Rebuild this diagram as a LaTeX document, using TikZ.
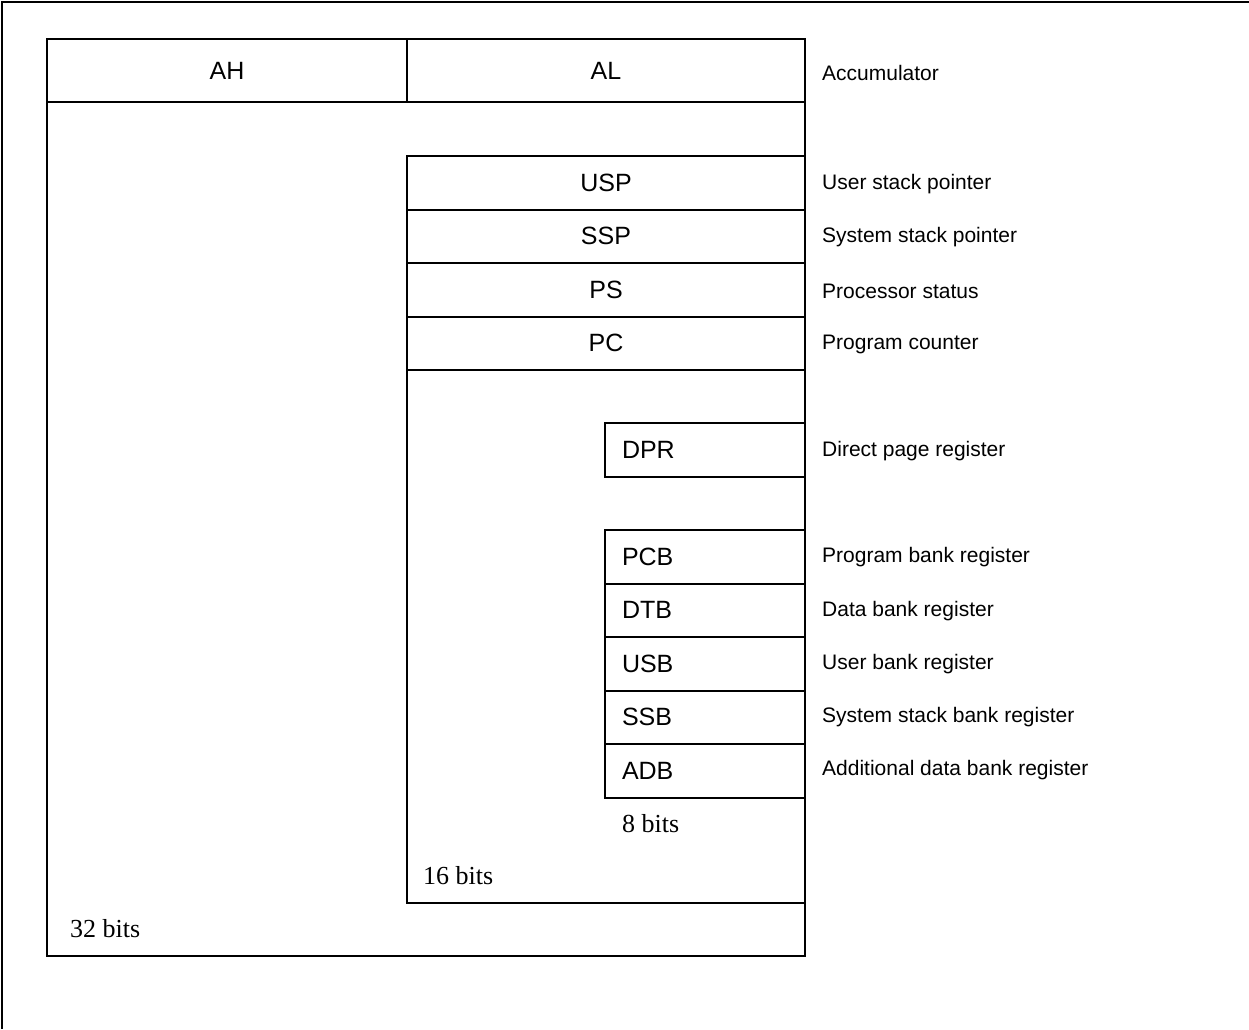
\documentclass[tikz,border=0pt]{standalone}
\usepackage{fontspec}
\setmainfont{Liberation Serif}
\setsansfont{Liberation Sans}
\newfontfamily\regsans{Liberation Sans}
\begin{document}
\begin{tikzpicture}[x=1pt,y=-1pt,
  frame/.style={line width=2.2pt},
  wall/.style={line width=2pt},
  regbox/.style={draw, line width=2pt, inner sep=0pt, outer sep=0pt, anchor=north west,
    minimum height=53.5pt, font=\regsans\fontsize{25}{29}\selectfont},
  accbox/.style={regbox, line width=2.8pt, minimum height=63pt},
  bankbox/.style={regbox, minimum width=200pt, text width=166pt, inner xsep=17pt, align=left},
  desc/.style={anchor=west, inner sep=0pt, yshift=-1.5pt, font=\regsans\fontsize{21}{25}\selectfont},
  bits/.style={anchor=base west, inner sep=0pt, font=\rmfamily\fontsize{26}{30}\selectfont}]
\useasboundingbox (0,0) rectangle (1249,1029);
% outer frame (top and left edges only)
\draw[frame] (1249,2) -- (2,2) -- (2,1029);

% accumulator
\node[accbox, minimum width=360pt] (ah) at (47,39) {AH};
\node[accbox, minimum width=398pt] (al) at (407,39) {AL};
\node[desc] (dacc) at (822,71) {Accumulator};

% 16-bit registers
\node[regbox, minimum width=398pt] (usp) at (407,156) {USP};
\node[regbox, minimum width=398pt] (ssp) at (407,209.5) {SSP};
\node[regbox, minimum width=398pt] (ps) at (407,263) {PS};
\node[regbox, minimum width=398pt] (pc) at (407,316.5) {PC};
\node[desc] (dusp) at (822,183) {User stack pointer};
\node[desc] (dssp) at (822,236) {System stack pointer};
\node[desc] (dps) at (822,290) {Processor status};
\node[desc] (dpc) at (822,343) {Program counter};

% 8-bit registers
\node[bankbox] (dpr) at (605,423) {DPR};
\node[desc] (ddpr) at (822,450) {Direct page register};
\node[bankbox] (pcb) at (605,530) {PCB};
\node[bankbox] (dtb) at (605,583.5) {DTB};
\node[bankbox] (usb) at (605,637) {USB};
\node[bankbox] (ssb) at (605,690.5) {SSB};
\node[bankbox] (adb) at (605,744) {ADB};
\node[desc] (dpcb) at (822,556) {Program bank register};
\node[desc] (ddtb) at (822,610) {Data bank register};
\node[desc] (dusb) at (822,663) {User bank register};
\node[desc] (dssb) at (822,716) {System stack bank register};
\node[desc] (dadb) at (822,769) {Additional data bank register};

% region outlines
\coordinate (c32bl) at (47,956);
\coordinate (c32br) at (805,956);
\coordinate (c16bl) at (407,903);
\coordinate (c16br) at (805,903);
\draw[wall, line width=2.5pt] (ah.south west) -- (c32bl) -- (c32br) -- (al.south east);
\draw[wall, line width=1.8pt] (pc.south west) -- (c16bl) -- (c16br);

% width labels
\node[bits] (b8) at (622,832) {8 bits};
\node[bits] (b16) at (423,884) {16 bits};
\node[bits] (b32) at (70,937) {32 bits};
\end{tikzpicture}
\end{document}
